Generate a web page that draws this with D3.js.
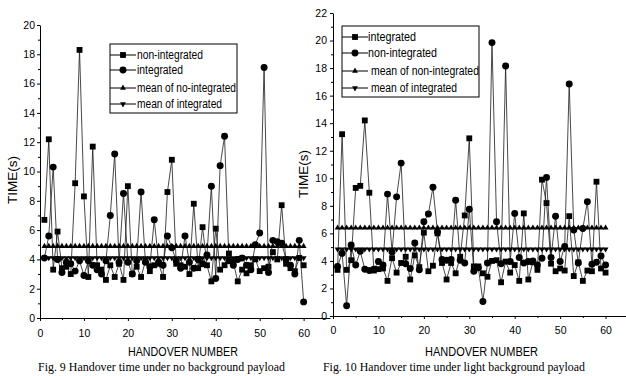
<!DOCTYPE html>
<html>
<head>
<meta charset="utf-8">
<script src="https://cdn.jsdelivr.net/npm/d3@7"></script>
<style>
  html, body { margin: 0; padding: 0; background: #fff; }
  svg { display: block; }
  text { font-family: "Liberation Sans", Arial, sans-serif; fill: #000; }
</style>
</head>
<body>
<svg id="chart" width="626" height="376"></svg>
<script>
// handover number 1..60 on the x axis
const handover = d3.range(1, 61);

// Fig. 9 - no background payload
const fig9NonIntegrated = [6.7, 12.2, 3.3, 5.9, 3.4, 3.5, 3.0, 9.2, 18.3, 8.3,
  2.8, 11.7, 3.6, 3.3, 2.6, 3.6, 2.8, 3.7, 2.6, 9.0,
  3.0, 3.5, 2.8, 3.9, 3.2, 3.6, 3.7, 2.8, 8.6, 10.8,
  3.7, 3.6, 3.5, 3.0, 7.8, 3.4, 6.2, 3.6, 2.5, 6.1,
  3.3, 3.6, 4.4, 3.8, 2.5, 3.3, 3.05, 3.6, 4.0, 3.2,
  3.4, 3.5, 4.5, 4.0, 7.7, 3.7, 3.4, 3.2, 4.1, 3.6];
const fig9Integrated = [4.1, 5.6, 10.3, 4.0, 3.1, 3.8, 3.7, 3.2, 3.9, 2.9,
  3.9, 3.6, 3.3, 3.0, 3.9, 7.0, 11.2, 3.8, 8.5, 3.8,
  3.0, 3.9, 8.6, 3.8, 3.5, 6.7, 3.8, 3.6, 5.6, 4.8,
  3.9, 3.4, 5.6, 3.8, 3.4, 4.0, 3.7, 4.3, 9.0, 2.7,
  10.4, 12.4, 3.9, 3.6, 4.0, 4.1, 3.6, 3.3, 5.0, 5.8,
  17.1, 3.1, 5.3, 5.2, 5.1, 4.0, 3.6, 3.0, 5.3, 1.1];
const fig9MeanNonIntegrated = 4.9;
const fig9MeanIntegrated = 4.1;
const fig9YTicks = [0, 2, 4, 6, 8, 10, 12, 14, 16, 18, 20];
const fig9Labels = ['non-integrated', 'integrated', 'mean of no-integrated', 'mean of integrated'];

// Fig. 10 - light background payload
const fig10Integrated = [3.35, 13.2, 3.35, 4.05, 9.3, 9.45, 14.2, 8.95, 3.3, 3.4,
  3.45, 2.55, 4.2, 3.15, 3.85, 4.3, 2.65, 4.4, 3.55, 6.05,
  3.25, 3.65, 6.0, 3.85, 2.65, 3.85, 3.1, 4.3, 7.3, 12.9,
  3.6, 3.6, 3.1, 2.85, 4.0, 4.05, 2.45, 3.95, 3.15, 3.7,
  2.55, 7.45, 2.65, 3.9, 3.35, 9.9, 8.2, 3.8, 3.25, 3.45,
  3.3, 7.25, 2.9, 3.9, 2.55, 3.3, 3.25, 9.75, 3.45, 3.15];
const fig10NonIntegrated = [3.6, 4.55, 0.75, 5.15, 3.7, 4.7, 3.4, 3.3, 3.4, 3.95,
  3.7, 8.85, 4.65, 8.65, 11.1, 3.8, 3.45, 5.3, 3.35, 6.85,
  7.4, 9.35, 6.1, 4.1, 4.05, 4.1, 8.4, 4.05, 3.85, 7.75,
  3.25, 3.5, 1.05, 3.85, 19.85, 6.85, 3.8, 18.15, 3.95, 7.45,
  4.25, 3.85, 3.95, 4.0, 3.7, 4.2, 10.05, 4.25, 7.25, 3.95,
  5.05, 16.85, 6.25, 3.85, 6.35, 8.3, 3.75, 3.9, 4.35, 3.7];
const fig10MeanNonIntegrated = 6.4;
const fig10MeanIntegrated = 4.85;
const fig10YTicks = [0, 2, 4, 6, 8, 10, 12, 14, 16, 18, 20, 22];
const fig10Labels = ['integrated', 'non-integrated', 'mean of non-integrated', 'mean of integrated'];

const xTicks = [0, 10, 20, 30, 40, 50, 60];
const xMinorTicks = [5, 15, 25, 35, 45, 55];

const svg = d3.select('#chart');

function symbolPath(shape, size) {
  const type = shape === 'square' ? d3.symbolSquare
    : shape === 'circle' ? d3.symbolCircle : d3.symbolTriangle;
  return d3.symbol().type(type).size(size)();
}
function markerTransform(shape, x, y) {
  return shape === 'down' ? `translate(${x},${y}) rotate(180)` : `translate(${x},${y})`;
}

function drawPanel(p) {
  const x = d3.scaleLinear().domain(p.xDomain).range(p.xRange);
  const y = d3.scaleLinear().domain(p.yDomain).range(p.yRange);
  const g = svg.append('g');

  // axes
  const yMinor = d3.range(1, p.yDomain[1], 2);
  g.append('g').attr('transform', `translate(${p.xRange[0]},0)`)
    .call(d3.axisLeft(y).tickValues(yMinor).tickSize(2).tickSizeOuter(0).tickFormat(''))
    .call(a => a.select('.domain').remove());
  g.append('g').attr('transform', `translate(${p.xRange[0]},0)`)
    .call(d3.axisLeft(y).tickValues(p.yTicks).tickSize(3).tickSizeOuter(0).tickPadding(p.yPad))
    .call(a => a.selectAll('text').style('font-size', '10.5px'));
  g.append('g').attr('transform', `translate(0,${p.yRange[0]})`)
    .call(d3.axisBottom(x).tickValues(xMinorTicks).tickSize(2).tickSizeOuter(0).tickFormat(''))
    .call(a => a.select('.domain').remove());
  g.append('g').attr('transform', `translate(0,${p.yRange[0]})`)
    .call(d3.axisBottom(x).tickValues(xTicks).tickSize(3).tickSizeOuter(0).tickPadding(p.xPad))
    .call(a => a.selectAll('text').style('font-size', '10.5px'));
  g.selectAll('.domain, .tick line').attr('stroke', '#000').attr('stroke-width', 1);

  // series
  const line = d3.line().x(d => x(d.n)).y(d => y(d.v));
  p.series.forEach(s => {
    const pts = handover.map((n, i) => ({ n, v: Array.isArray(s.values) ? s.values[i] : s.values }));
    g.append('path').datum(pts)
      .attr('d', line).attr('fill', 'none')
      .attr('stroke', '#1a1a1a').attr('stroke-width', 0.8);
    g.selectAll(null).data(pts).enter().append('path')
      .attr('d', symbolPath(s.shape, s.size))
      .attr('transform', d => markerTransform(s.shape, x(d.n), y(d.v)))
      .attr('fill', '#000');
  });

  // legend
  const L = p.legend;
  g.append('rect').attr('x', L.box[0]).attr('y', L.box[1])
    .attr('width', L.box[2]).attr('height', L.box[3])
    .attr('fill', '#fff').attr('stroke', '#000').attr('stroke-width', 1);
  p.series.forEach((s, i) => {
    const ry = L.rows[i];
    g.append('line').attr('x1', L.line[0]).attr('x2', L.line[1])
      .attr('y1', ry).attr('y2', ry).attr('stroke', '#000').attr('stroke-width', 1);
    g.append('path').attr('d', symbolPath(s.shape, s.legendSize))
      .attr('transform', markerTransform(s.shape, L.marker, ry)).attr('fill', '#000');
    g.append('text').attr('x', L.textX[i]).attr('y', ry + 4)
      .attr('textLength', L.textW[i]).attr('lengthAdjust', 'spacingAndGlyphs')
      .style('font-size', '12px').text(p.labels[i]);
  });

  // titles
  g.append('text')
    .attr('transform', `translate(${p.yTitle[0]},${p.yTitle[1]}) rotate(-90)`)
    .attr('text-anchor', 'middle').attr('dy', '0.35em')
    .attr('textLength', 48).attr('lengthAdjust', 'spacingAndGlyphs')
    .style('font-size', '13.5px').text('TIME(s)');
  g.append('text').attr('x', p.xTitle[0]).attr('y', p.xTitle[1])
    .attr('textLength', p.xTitle[2]).attr('lengthAdjust', 'spacingAndGlyphs')
    .style('font-size', '12px').text('HANDOVER  NUMBER');
  g.append('text').attr('x', p.caption[0]).attr('y', p.caption[1])
    .attr('textLength', p.caption[2]).attr('lengthAdjust', 'spacingAndGlyphs')
    .style('font-family', '"Liberation Serif", "Times New Roman", serif')
    .style('font-size', '13px').text(p.caption[3]);
}

drawPanel({
  xDomain: [0, 66], xRange: [40, 330],
  yDomain: [0, 20], yRange: [318, 25], yTicks: fig9YTicks,
  yPad: 2, xPad: 9,
  series: [
    { values: fig9NonIntegrated, shape: 'square', size: 34, legendSize: 34 },
    { values: fig9Integrated, shape: 'circle', size: 38, legendSize: 38 },
    { values: fig9MeanNonIntegrated, shape: 'up', size: 15, legendSize: 15 },
    { values: fig9MeanIntegrated, shape: 'down', size: 15, legendSize: 15 }
  ],
  labels: fig9Labels,
  legend: { box: [110, 44, 127, 69], rows: [55, 70, 88, 104], line: [110, 136], marker: 123,
    textX: [137, 137, 137, 137], textW: [66, 46, 99, 85] },
  yTitle: [12, 180],
  xTitle: [128, 355.5, 110],
  caption: [38, 370.5, 247, 'Fig. 9 Handover time under no background payload']
});

drawPanel({
  xDomain: [0, 64.5], xRange: [333, 626],
  yDomain: [0, 22], yRange: [316, 13], yTicks: fig10YTicks,
  yPad: 3, xPad: 8,
  series: [
    { values: fig10Integrated, shape: 'square', size: 34, legendSize: 34 },
    { values: fig10NonIntegrated, shape: 'circle', size: 38, legendSize: 38 },
    { values: fig10MeanNonIntegrated, shape: 'up', size: 15, legendSize: 15 },
    { values: fig10MeanIntegrated, shape: 'down', size: 15, legendSize: 15 }
  ],
  labels: fig10Labels,
  legend: { box: [342, 26, 137, 71], rows: [37, 53, 71, 88], line: [342, 368], marker: 355,
    textX: [368, 368, 371, 371], textW: [48, 69, 108, 86] },
  yTitle: [303, 174],
  xTitle: [425, 355.5, 113],
  caption: [323, 370.5, 262, 'Fig. 10 Handover time under light background payload']
});
</script>
</body>
</html>
